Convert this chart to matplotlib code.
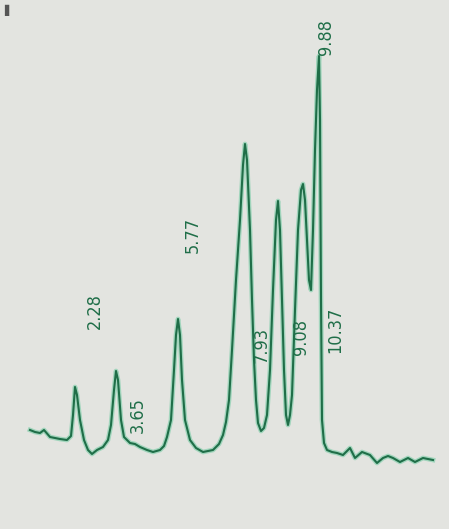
import numpy as np
import matplotlib
matplotlib.use("Agg")
import matplotlib.pyplot as plt

tid = [30, 35, 40, 44, 50, 60, 67, 71, 73, 75, 77, 80, 84, 88, 92, 97, 103, 108, 111, 114,
       116, 118, 121, 124, 130, 135, 140, 147, 153, 160, 164, 167, 171, 174, 176, 178, 180, 182,
       185, 190, 196, 203, 208, 213, 219, 223, 226, 229, 232, 236, 240, 243, 245, 247, 250, 252,
       254, 256, 258, 261, 264, 267, 270, 273, 276, 278, 280, 282, 284, 286, 288, 290, 292, 295,
       298, 301, 303, 305, 307, 309, 311, 313, 315, 317, 319, 320, 321, 322, 324, 327, 332, 337,
       343, 350, 355, 362, 370, 377, 383, 388, 393, 400, 408, 415, 423, 433]
signal = [40, 38, 37, 40, 33, 31, 30, 34, 55, 83, 75, 50, 30, 20, 16, 20, 23, 30, 45, 80,
          99, 90, 50, 33, 27, 26, 23, 20, 18, 20, 24, 33, 50, 100, 135, 151, 135, 90,
          50, 30, 22, 18, 19, 20, 26, 35, 48, 70, 120, 190, 250, 305, 326, 310, 240, 170,
          110, 70, 47, 39, 42, 55, 100, 180, 250, 269, 240, 170, 100, 55, 45, 55, 75, 160,
          240, 280, 286, 270, 230, 190, 180, 240, 320, 380, 414, 350, 170, 50, 27, 20, 18, 17,
          15, 22, 12, 18, 15, 7, 12, 14, 12, 8, 12, 8, 12, 10]

# Peak labels printed by the integrator
etiketter = ["2.28", "3.65", "5.77", "7.93", "9.08", "9.88", "10.37"]
etikett_x = [95, 138, 193, 262, 301, 326, 335]
etikett_y = [159, 55, 235, 125, 133, 433, 140]

fig = plt.figure(figsize=(4.49, 5.29), dpi=100)
fig.patch.set_facecolor("#e3e4e0")
ax = fig.add_axes([0, 0, 1, 1])
ax.set_facecolor("#e3e4e0")

# lys glorie rundt linja, som i skanningen
ax.plot(tid, signal, color="#6cc9a0", lw=3.4, alpha=0.55, solid_joinstyle="round")
ax.plot(tid, signal, color="#1f6e48", lw=1.5, solid_joinstyle="round")

for tekst, x, y in zip(etiketter, etikett_x, etikett_y):
    ax.text(x, y, tekst, rotation=90, ha="center", va="center",
            fontsize=13, color="#1f6e48", family="DejaVu Sans", fontstretch="condensed")

ax.text(8, 460, "\u258c", fontsize=8, color="#555555", ha="center", va="center")

ax.set_xlim(0, 449)
ax.set_ylim(-59, 470)
ax.axis("off")

fig.savefig("out.png", dpi=100, facecolor=fig.get_facecolor())
